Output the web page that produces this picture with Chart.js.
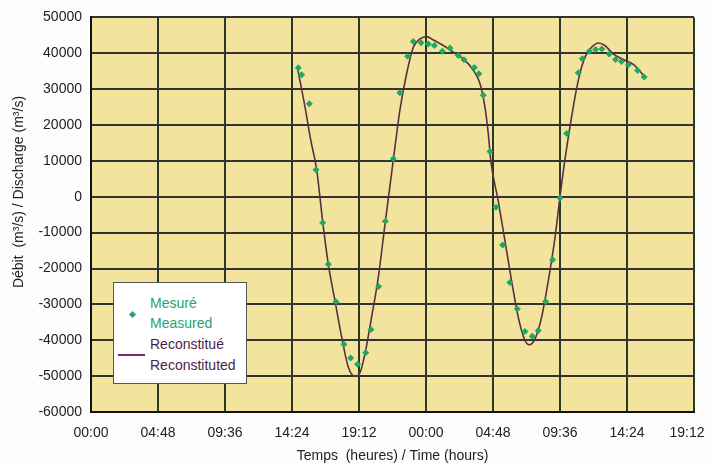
<!DOCTYPE html>
<html>
<head>
<meta charset="utf-8">
<script src="https://cdn.jsdelivr.net/npm/chart.js@4.4.1/dist/chart.umd.min.js"></script>
<style>
  html, body { margin: 0; padding: 0; background: #fdfdfb; }
  #wrap { position: relative; width: 709px; height: 463px; }
  #legend {
    position: absolute; left: 113px; top: 282px; width: 132px; height: 100px;
    background: #fff; border: 1px solid #555; font: 14px "Liberation Sans", Arial, sans-serif;
  }
  #legend .t { position: absolute; left: 36px; line-height: 15px; white-space: nowrap; }
  #legend .g { color: #27a36f; }
  #legend .p { color: #4b1f45; }
  #legend .dia { position: absolute; left: 16px; top: 29px; width: 5px; height: 5px; background: #1fa865; transform: rotate(45deg); }
  #legend .ln  { position: absolute; left: 4px; top: 71px; width: 27px; height: 2px; background: #7a2a70; }
</style>
</head>
<body>
<div id="wrap">
  <canvas id="c" width="709" height="463"></canvas>
  <div id="legend">
    <div class="dia"></div>
    <div class="t g" style="top:13px">Mesuré</div>
    <div class="t g" style="top:33px">Measured</div>
    <div class="ln"></div>
    <div class="t p" style="top:54px">Reconstitué</div>
    <div class="t p" style="top:75px">Reconstituted</div>
  </div>
</div>
<script>
// ── DATA ─────────────────────────────────────────────────────────────────────
// time in hours from 00:00 of day 1, discharge in m3/s
const measuredHours = [14.85, 15.09, 15.64, 16.12, 16.6, 17.0, 17.55, 18.12, 18.6, 19.1, 19.68, 20.06, 20.6,
  21.09, 21.66, 22.13, 22.68, 23.09, 23.64, 24.17, 24.6, 25.17, 25.72, 26.31, 26.72, 27.46, 27.79, 28.1,
  28.58, 29.01, 29.49, 30.01, 30.54, 31.09, 31.61, 32.04, 32.57, 33.07, 33.6, 34.08, 34.91, 35.2, 35.7,
  36.15, 36.6, 37.13, 37.58, 38.0, 38.5, 39.16, 39.63];
const measuredFlow = [35950, 34010, 25900, 7520, -7270, -18800, -29250, -41080, -44960, -46710, -43470, -37010, -25000,
  -6800, 10570, 29030, 39190, 43260, 42930, 42600, 42150, 40580, 41500, 39390, 38190, 36060, 34300, 28300,
  12600, -2930, -13450, -23900, -31280, -37570, -38870, -37290, -29170, -17530, -350, 17660, 34570, 38450, 40580,
  41050, 41220, 39830, 38280, 37720, 36780, 35230, 33370];

const reconHours = [14.78, 15.33, 15.74, 16.17, 16.6, 17.0, 17.48, 17.96, 18.43, 18.91, 19.22, 19.63, 20.1, 20.58,
  21.06, 21.78, 22.13, 22.61, 23.09, 23.57, 24.05, 24.52, 25.24, 25.96, 26.79, 27.39, 27.87, 28.22, 28.46,
  28.65, 29.18, 29.66, 30.13, 30.61, 31.09, 31.4, 31.81, 32.28, 32.76, 33.24, 33.6, 33.95, 34.43, 34.91,
  35.39, 35.87, 36.34, 36.82, 37.41, 38.13, 38.85, 39.68];
const reconFlow = [36150, 25060, 15830, 7520, -7000, -18800, -29000, -39150, -47450, -50040, -49480, -43750, -33600, -22520,
  -7750, 13970, 24150, 34290, 41690, 43990, 44650, 43710, 42160, 40300, 38000, 35230, 31520, 25060, 17660,
  9820, -1260, -12350, -23430, -33600, -40060, -41250, -39600, -33600, -23430, -11430, 0, 10290, 22290, 32460,
  38920, 41690, 42880, 42160, 39830, 38280, 36890, 33370];

const xMin = 0, xMax = 43.2, xStep = 4.8;      // 00:00 .. 19:12 next day
const yMin = -60000, yMax = 50000, yStep = 10000;

const FONT = '"Liberation Sans", Arial, sans-serif';

function hhmm(v) {
  const m = ((Math.round(v * 60) % 1440) + 1440) % 1440;
  return String(Math.floor(m / 60)).padStart(2, '0') + ':' + String(m % 60).padStart(2, '0');
}

// plot background + y title
const plotBg = {
  id: 'plotBg',
  beforeDraw(chart) {
    const { ctx, chartArea: a } = chart;
    ctx.save();
    ctx.fillStyle = '#f3e49d';
    ctx.fillRect(a.left, a.top, a.right - a.left, a.bottom - a.top);
    ctx.restore();
  },
  afterDraw(chart) {
    const ctx = chart.ctx;
    ctx.save();
    ctx.translate(19, 192);
    ctx.rotate(-Math.PI / 2);
    ctx.font = '14px ' + FONT;
    ctx.fillStyle = '#222';
    ctx.textAlign = 'center';
    ctx.textBaseline = 'middle';
    ctx.fillText('Débit  (m³/s) / Discharge (m³/s)', 0, 0);
    ctx.restore();
  }
};

new Chart(document.getElementById('c'), {
  type: 'scatter',
  data: {
    datasets: [
      {
        label: 'Reconstitué',
        data: reconHours.map((h, i) => ({ x: h, y: reconFlow[i] })),
        showLine: true, borderColor: '#5a3040', borderWidth: 1.6,
        pointRadius: 0, cubicInterpolationMode: 'monotone', order: 2
      },
      {
        label: 'Mesuré',
        data: measuredHours.map((h, i) => ({ x: h, y: measuredFlow[i] })),
        pointStyle: 'rectRot', pointRadius: 3.5, backgroundColor: '#1fa865',
        borderWidth: 0, order: 1
      }
    ]
  },
  options: {
    responsive: false, animation: false,
    layout: { padding: { top: 15, right: 15, left: 0, bottom: 0 } },
    plugins: { legend: { display: false }, tooltip: { enabled: false } },
    scales: {
      x: {
        type: 'linear', min: xMin, max: xMax,
        afterFit(s) { s.height = 51; s.paddingLeft = 0; s.paddingRight = 0; },
        afterBuildTicks(s) {
          s.ticks = [];
          for (let i = 0; i <= 9; i++) s.ticks.push({ value: xMin + i * xStep });
        },
        grid: { color: '#2b3a24', lineWidth: 2, drawTicks: false },
        border: { color: '#111', width: 2 },
        ticks: {
          padding: 13, color: '#222', font: { family: FONT, size: 14 }, maxRotation: 0,
          // last label sits near the page edge: pad it so it stays inside
          callback: (v, i, ticks) => hhmm(v) + (i === ticks.length - 1 ? '\u2002\u2002' : '')
        },
        title: { display: true, text: 'Temps  (heures) / Time (hours)', color: '#222',
          font: { family: FONT, size: 14, lineHeight: 1 }, padding: { top: 0, bottom: 0 } }
      },
      y: {
        min: yMin, max: yMax,
        afterFit(s) { s.width = 91; },
        grid: { color: '#333', lineWidth: 2, drawTicks: false },
        border: { color: '#111', width: 2 },
        ticks: { stepSize: yStep, padding: 9, color: '#222', font: { family: FONT, size: 14 }, callback: v => String(v) }
      }
    }
  },
  plugins: [plotBg]
});
</script>
</body>
</html>
